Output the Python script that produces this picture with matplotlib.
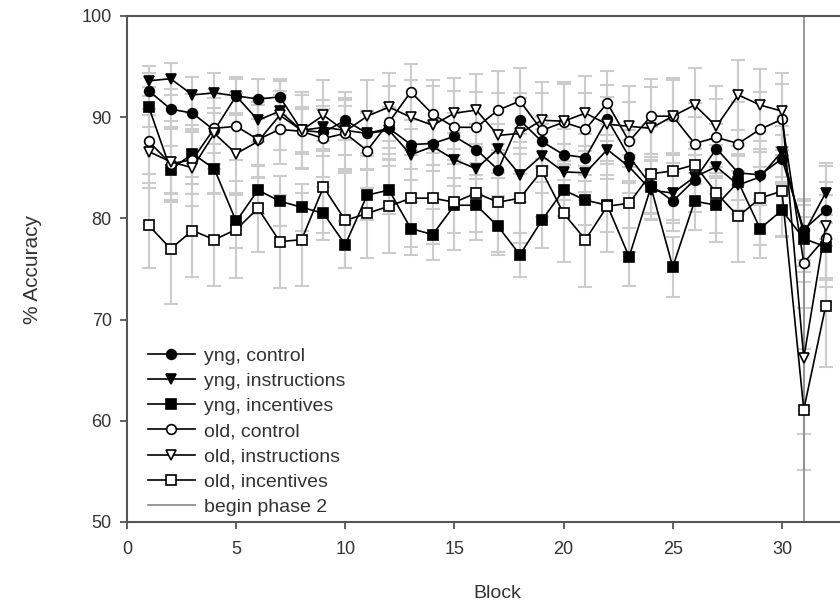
import matplotlib
matplotlib.use("Agg")
import matplotlib.pyplot as plt

plt.rcParams['font.family'] = ['Liberation Sans', 'DejaVu Sans']

blocks = list(range(1, 33))

yng_control = [92.6, 90.8, 90.4, 88.7, 92.1, 91.8, 92.0, 88.7, 88.5, 89.7, 88.4, 88.9,
               87.3, 87.4, 88.1, 86.8, 84.8, 89.7, 87.6, 86.3, 86.0, 89.8, 86.1, 83.3,
               81.7, 83.8, 86.9, 84.5, 84.3, 85.9, 78.9, 80.8]
yng_instructions = [93.6, 93.8, 92.2, 92.4, 92.1, 89.7, 90.6, 88.7, 89.0, 88.7, 88.4, 88.7,
                    86.3, 87.1, 85.8, 84.9, 86.9, 84.3, 86.2, 84.6, 84.5, 86.8, 85.1, 82.8,
                    82.5, 84.1, 85.1, 83.3, 84.1, 86.6, 78.5, 82.5]
yng_incentives = [91.0, 84.8, 86.4, 84.9, 79.7, 82.8, 81.7, 81.1, 80.5, 77.4, 82.3, 82.8,
                  79.0, 78.4, 81.3, 81.3, 79.2, 76.4, 79.8, 82.8, 81.8, 81.3, 76.2, 83.1,
                  75.2, 81.7, 81.3, 83.6, 79.0, 80.8, 78.0, 77.2]
old_control = [87.6, 85.4, 85.8, 88.9, 89.1, 87.8, 88.8, 88.6, 87.9, 88.4, 86.7, 89.5,
               92.5, 90.3, 89.0, 89.0, 90.7, 91.6, 88.7, 89.5, 88.8, 91.4, 87.6, 90.1,
               90.1, 87.4, 88.0, 87.4, 88.8, 89.8, 75.6, 78.1]
old_instructions = [86.6, 85.6, 85.0, 88.4, 86.4, 87.6, 90.2, 88.7, 90.2, 88.6, 90.1, 91.0,
                    90.0, 89.2, 90.4, 90.7, 88.2, 88.4, 89.7, 89.6, 90.4, 89.3, 89.1, 88.9,
                    90.1, 91.2, 89.1, 92.2, 91.2, 90.6, 66.2, 79.2]
old_incentives = [79.3, 77.0, 78.8, 77.9, 78.9, 81.0, 77.7, 77.9, 83.1, 79.8, 80.5, 81.2,
                  82.0, 82.0, 81.6, 82.5, 81.6, 82.0, 84.7, 80.5, 77.9, 81.2, 81.5, 84.4,
                  84.7, 85.3, 82.5, 80.2, 82.0, 82.7, 61.1, 71.3]

# standard errors (read roughly from the grey whiskers)
yng_control_err = [1.8, 2.0, 1.9, 2.2, 1.7, 2.0, 1.8, 2.1, 2.3, 2.0, 2.2, 1.9,
                   2.4, 2.1, 2.3, 2.5, 2.6, 2.2, 2.4, 2.5, 2.3, 2.2, 2.6, 2.8,
                   2.9, 2.5, 2.4, 2.7, 2.6, 2.3, 3.0, 2.8]
yng_instructions_err = [1.5, 1.6, 1.8, 2.0, 1.9, 2.2, 2.0, 2.3, 2.1, 2.4, 2.2, 2.3,
                        2.5, 2.4, 2.6, 2.5, 2.4, 2.7, 2.6, 2.8, 2.7, 2.5, 2.6, 2.9,
                        3.0, 2.8, 2.7, 2.9, 2.8, 2.5, 3.2, 3.0]
yng_incentives_err = [2.0, 2.4, 2.3, 2.5, 2.6, 2.4, 2.5, 2.3, 2.6, 2.3, 2.5, 2.4,
                      2.6, 2.5, 2.7, 2.6, 2.8, 2.2, 2.7, 2.6, 2.5, 2.6, 2.9, 2.7,
                      3.0, 2.8, 2.7, 2.8, 2.9, 2.6, 3.3, 3.1]
old_control_err = [3.2, 3.6, 3.4, 3.5, 3.3, 3.7, 3.4, 3.6, 3.8, 3.5, 3.7, 3.6,
                   2.8, 3.4, 3.6, 3.5, 3.9, 3.3, 3.7, 3.8, 3.6, 3.2, 3.9, 3.7,
                   3.6, 4.0, 3.8, 4.1, 3.7, 3.5, 4.5, 4.2]
old_instructions_err = [3.6, 4.0, 3.8, 3.5, 3.9, 3.6, 3.4, 3.8, 3.5, 3.9, 3.6, 3.4,
                        3.7, 3.9, 3.5, 3.6, 4.2, 4.0, 3.8, 3.9, 3.7, 3.9, 4.0, 4.1,
                        3.8, 3.7, 4.0, 3.5, 3.6, 3.8, 7.5, 6.0]
old_incentives_err = [4.2, 5.5, 4.6, 4.6, 4.8, 4.3, 4.6, 4.6, 4.5, 4.7, 4.4, 4.6,
                      4.8, 4.5, 4.7, 4.6, 4.9, 4.4, 4.6, 4.8, 4.7, 4.5, 4.8, 4.6,
                      4.9, 4.7, 4.8, 4.5, 4.6, 4.4, 6.0, 6.0]

series = [
    ("yng, control", yng_control, yng_control_err, 'o', 'black'),
    ("yng, instructions", yng_instructions, yng_instructions_err, 'v', 'black'),
    ("yng, incentives", yng_incentives, yng_incentives_err, 's', 'black'),
    ("old, control", old_control, old_control_err, 'o', 'white'),
    ("old, instructions", old_instructions, old_instructions_err, 'v', 'white'),
    ("old, incentives", old_incentives, old_incentives_err, 's', 'white'),
]

phase2_block = 31
text_color = '#333333'
spine_color = '#555555'

fig = plt.figure(figsize=(8.4, 6.08), dpi=100)
ax = fig.add_axes([127 / 840, 86 / 608, 1 - 127 / 840, 506 / 608])

for label, vals, errs, marker, face in series:
    ax.errorbar(blocks, vals, yerr=errs, fmt='none', ecolor='#cccccc',
                elinewidth=1.5, capsize=5, capthick=1.5, zorder=1)

for label, vals, errs, marker, face in series:
    ax.plot(blocks, vals, color='black', lw=1.2, marker=marker, ms=7,
            mfc=face, mec='black', mew=1.2, label=label, zorder=3)

ax.axvline(phase2_block, color='#888888', lw=1.2, label="begin phase 2", zorder=2)

ax.set_xlim(0, 32.66)
ax.set_ylim(50, 100)
ax.set_xticks([0, 5, 10, 15, 20, 25, 30])
ax.set_yticks([50, 60, 70, 80, 90, 100])

ax.spines['right'].set_visible(False)
for side in ['left', 'bottom', 'top']:
    ax.spines[side].set_color(spine_color)
    ax.spines[side].set_linewidth(1.5)
ax.tick_params(direction='out', length=5, width=1.3, color=spine_color,
               labelcolor=text_color, labelsize=13)
ax.tick_params(axis='x', pad=9)
ax.tick_params(axis='y', pad=6)

ax.set_xlabel("Block", fontsize=14, color=text_color, va='center')
ax.set_ylabel("% Accuracy", fontsize=15, color=text_color, va='center', ha='center')
ax.xaxis.set_label_coords((497 - 127) / 713, (522 - 593) / 506)
ax.yaxis.set_label_coords((33 - 127) / 713, 0.5)

leg = ax.legend(loc='upper left', bbox_to_anchor=((148 - 127) / 713, (522 - 347) / 506),
                frameon=False, fontsize=14, handlelength=2.4, handletextpad=0.5,
                labelspacing=0.39, borderaxespad=0, borderpad=0)
for t in leg.get_texts():
    t.set_color(text_color)

fig.savefig("out.png", dpi=100)
